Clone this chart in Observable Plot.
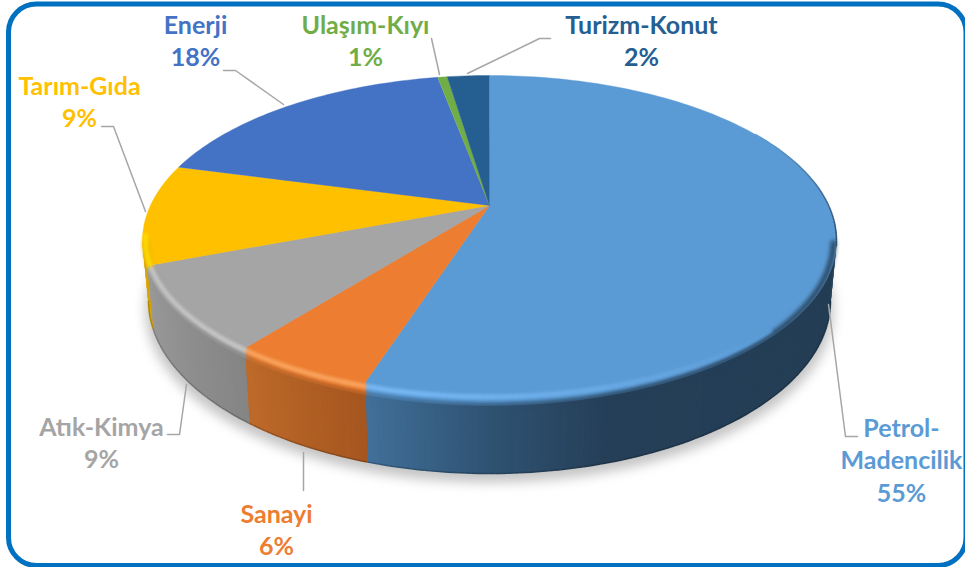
<!DOCTYPE html>
<html>
<head>
<meta charset="utf-8">
<script src="https://cdn.jsdelivr.net/npm/d3@7"></script>
<script src="https://cdn.jsdelivr.net/npm/@observablehq/plot@0.6"></script>
<style>
html,body{margin:0;padding:0;background:#fff;overflow:hidden}
svg{display:block}
</style>
</head>
<body>
<div id="chart"></div>
<script>
// Data
const sectors = ["Petrol-Madencilik","Sanayi","Atık-Kimya","Tarım-Gıda","Enerji","Ulaşım-Kıyı","Turizm-Konut"];
const labelNames = ["Petrol-\nMadencilik","Sanayi","Atık-Kimya","Tarım-Gıda","Enerji","Ulaşım-Kıyı","Turizm-Konut"];
const percents = [55,6,9,9,18,1,2];
// sweep of each slice, in degrees clockwise from the top
const sweepDeg = [200.9,23.8,35.7,36,55,1.6,7];

// Styles
const topColors = ["#5b9bd5","#ed7d31","#a5a5a5","#ffc000","#4472c4","#70ad47","#255e91"];
const lightColors = ["#78b8f5","#f9a45e","#c6c6c6","#ffdc00",null,null,null];
const wallStops = [
  [[90,"#233d54"],[160,"#253f58"],[180,"#2f5272"],[201,"#41709a"]],
  [[201,"#a6561f"],[225,"#bd6a2a"]],
  [[225,"#858585"],[261,"#9a9a9a"]],
  [[261,"#d9a400"],[297,"#d9a400"]]
];
// Layout of the tilted disc (plot units)
const apex = {x:489,y:205};
const topE = {cx:489,cy:240,rx:347,ry:165};
const botE = {cx:489,cy:300,rx:341,ry:173};
const rad = d => d*Math.PI/180;
const onE = (E,t) => ({x:E.cx+E.rx*Math.sin(rad(t)), y:E.cy-E.ry*Math.cos(rad(t))});
const bevel = t => 14*Math.max(0,-Math.cos(rad(t)));
const ends = Array.from(d3.cumsum(sweepDeg));
const starts = [0,...ends.slice(0,-1)];
const step = 1;
const blur = px => (index,scales,values,dims,ctx,next) => {
  const g = next(index,scales,values,dims,ctx);
  g.style.filter = `blur(${px}px)`;
  return g;
};

// Top face slices
const faces = [];
sectors.forEach((s,i)=>{
  const a=starts[i], b=ends[i], col=topColors[i];
  faces.push({z:s,x:apex.x,y:apex.y,c:col});
  const pa=onE(topE,a); faces.push({z:s,x:pa.x,y:pa.y-bevel(a),c:col});
  for(let t=a;t<b;t+=step){const p=onE(topE,t);faces.push({z:s,x:p.x,y:p.y,c:col});}
  const pb=onE(topE,b); faces.push({z:s,x:pb.x,y:pb.y,c:col});
  faces.push({z:s,x:pb.x,y:pb.y-bevel(b),c:col});
});

// Side wall: each strip overlaps the next so that no seams show
const sliceOf = t => { for(let i=0;i<ends.length;i++) if(t<ends[i]) return i; return ends.length-1; };
function wallColor(i,t){
  const st=wallStops[i]; if(!st) return "#333333";
  if(t<=st[0][0]) return st[0][1];
  for(let k=1;k<st.length;k++) if(t<=st[k][0])
    return d3.interpolateRgb(st[k-1][1],st[k][1])((t-st[k-1][0])/(st[k][0]-st[k-1][0]));
  return st[st.length-1][1];
}
const wall=[]; const rimWall=[]; const rimLight=[]; const edge=[];
const rimIn = {...topE,rx:topE.rx-3};
for(let t=90;t<270;t+=step){
  const cuts=[t,...ends.filter(e=>e>t&&e<t+step),t+step];
  for(let k=0;k<cuts.length-1;k++){
    const a=cuts[k], b=cuts[k+1], m=(a+b)/2, i=sliceOf(m), col=wallColor(i,m), z=`w${t}_${k}`;
    const over=Math.min(b+step,270);
    const extended = b===t+step ? over : b;
    const a1=onE(topE,a), b1=onE(topE,extended), a2=onE(botE,a), b2=onE(botE,extended);
    [a1,b1,b2,a2].forEach(p=>wall.push({z,x:p.x,y:p.y,c:col}));
    const r1=onE(rimIn,a), r2=onE(rimIn,b);
    rimWall.push({x1:r1.x,y1:r1.y,x2:r2.x,y2:r2.y,c:col});
    const e1=onE(botE,a), e2=onE(botE,b);
    edge.push({x1:e1.x,y1:e1.y,x2:e2.x,y2:e2.y,c:d3.color(col).darker(0.6).formatHex()});
  }
}
// Bevel highlight along the front rim
for(let t=125;t<272;t+=step){
  const m=t+step/2, i=sliceOf(m), light=lightColors[i];
  if(!light) continue;
  let s = i===0 ? Math.max(0,Math.min(1,(m-125)/70)) : 1;
  const col=d3.interpolateRgb(topColors[i],light)(s);
  const a=onE(rimIn,t), b=onE(rimIn,t+step), da=bevel(t)*0.55+1, db=bevel(t+step)*0.55+1;
  rimLight.push({x1:a.x,y1:a.y-da,x2:b.x,y2:b.y-db,c:col});
}
// Dark outline where the right edge turns away
const darkEdge=[];
for(let t=50;t<92;t+=step){
  const a=onE(topE,t), b=onE(topE,t+step);
  darkEdge.push({x1:a.x,y1:a.y,x2:b.x,y2:b.y,c:d3.interpolateRgb("#5b9bd5","#2b4a66")(Math.min(1,(t-50)/40))});
}
// Soft shadow
const shadow=d3.range(0,360,3).map(t=>{const p=onE({...botE,cy:botE.cy+9,rx:botE.rx+3},t);return {x:p.x,y:p.y};});

// Labels
const labelPos = [[901,458.5],[276,528],[101,441],[79,100],[195,39],[365,39],[641,39]];
const labels = sectors.map((s,i)=>({
  text:`${labelNames[i]}\n${percents[i]}%`, x:labelPos[i][0], y:labelPos[i][1], c:topColors[i]
}));
// Leader lines
const leaderPaths = [
  [[828,304],[845,436],[857,436]],
  [[303,452],[303,490]],
  [[167,434],[179,434],[186,384]],
  [[101,126],[113,126],[145,211]],
  [[223,70],[235,70],[283,104]],
  [[431,38],[439,74]],
  [[467,73],[539,38],[550,38]]
];
const leaders = leaderPaths.flatMap((path,i)=>path.map(([x,y])=>({z:i,x,y})));

const chart = Plot.plot({
  width:965, height:567, margin:0,
  style:{background:"#fff"},
  x:{domain:[0,965],range:[0,965],axis:null},
  y:{domain:[0,567],range:[0,567],axis:null},
  color:{type:"identity"},
  marks:[
    Plot.line(shadow,{x:"x",y:"y",fill:"#c4c4c4",stroke:"none",render:blur(6)}),
    Plot.line(wall,{x:"x",y:"y",z:"z",fill:"c",stroke:"none"}),
    Plot.link(edge,{x1:"x1",y1:"y1",x2:"x2",y2:"y2",stroke:"c",strokeWidth:1.5,render:blur(0.7)}),
    Plot.line(faces,{x:"x",y:"y",z:"z",fill:"c",stroke:"c",strokeWidth:0.4}),
    Plot.link(rimWall,{x1:"x1",y1:"y1",x2:"x2",y2:"y2",stroke:"c",strokeWidth:5,render:blur(2)}),
    Plot.link(rimLight,{x1:"x1",y1:"y1",x2:"x2",y2:"y2",stroke:"c",strokeWidth:5,render:blur(1.5)}),
    Plot.link(darkEdge,{x1:"x1",y1:"y1",x2:"x2",y2:"y2",stroke:"c",strokeWidth:1.5}),
    Plot.line(leaders,{x:"x",y:"y",z:"z",stroke:"#a6a6a6",strokeWidth:1.5}),
    Plot.text(labels,{x:"x",y:"y",text:"text",fill:"c",fontFamily:"Lato",fontWeight:"bold",fontSize:25,lineHeight:1.31,lineAnchor:"middle",textAnchor:"middle"}),
    Plot.rect([0],{x1:()=>8.5,x2:()=>966,y1:()=>4,y2:()=>565.5,rx:28,fill:"none",stroke:"#0070c0",strokeWidth:5})
  ]
});
document.getElementById("chart").append(chart);
</script>
</body>
</html>
